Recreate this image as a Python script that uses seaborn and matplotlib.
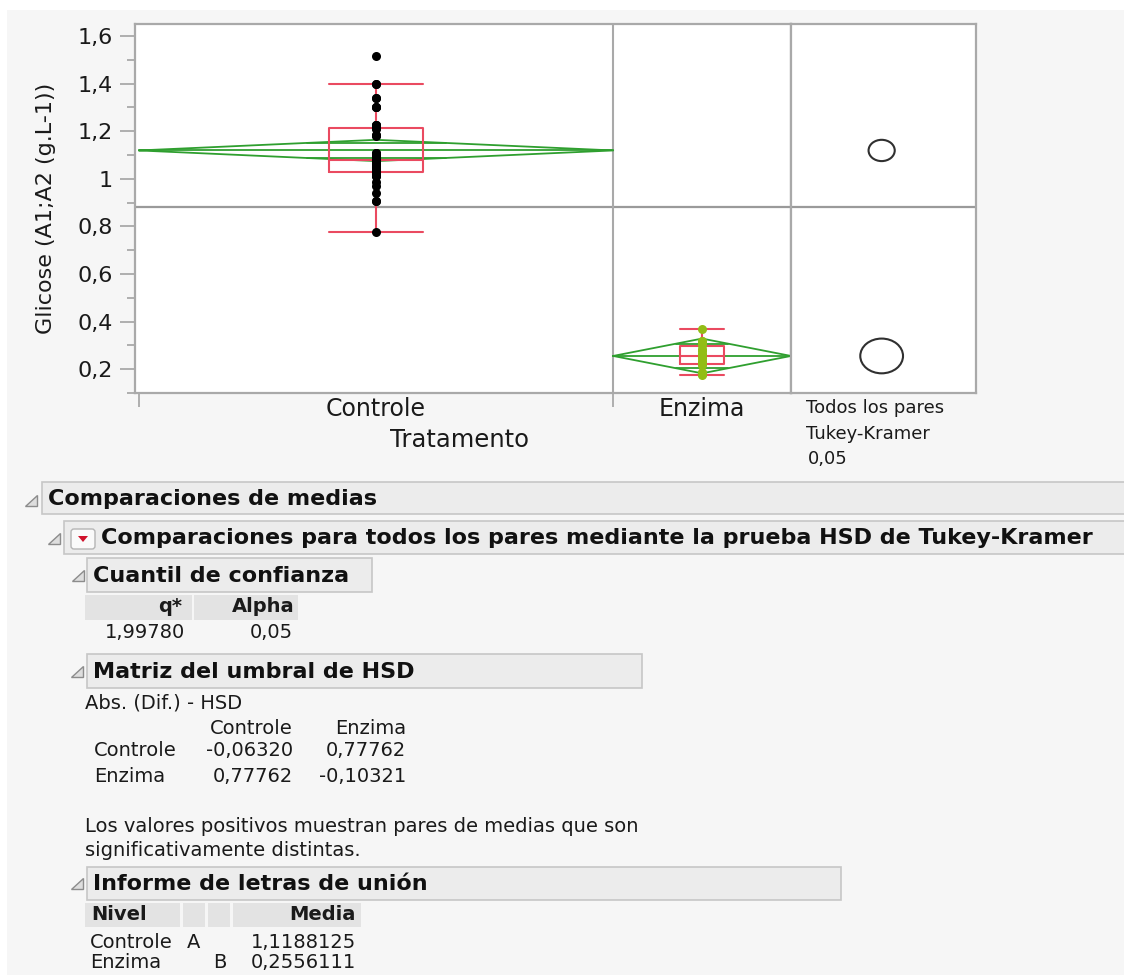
import numpy as np
import pandas as pd
import seaborn as sns
import matplotlib.pyplot as plt
from matplotlib.patches import Ellipse, Rectangle, Polygon, FancyBboxPatch
from matplotlib.ticker import FixedLocator, MultipleLocator

# ---------------- data ----------------
groups = ["Controle", "Enzima"]
counts = [48, 18]

glicose_controle = [
    0.776, 0.905, 0.905, 0.94, 0.97, 0.985, 1.01, 1.01, 1.02, 1.02, 1.02, 1.025,
    1.028, 1.035, 1.045, 1.05, 1.05, 1.055, 1.06, 1.06, 1.065, 1.07, 1.07, 1.075,
    1.083, 1.09, 1.095, 1.10, 1.105, 1.11, 1.11, 1.18, 1.183, 1.183, 1.21, 1.212,
    1.22, 1.225, 1.225, 1.225, 1.30, 1.30, 1.30, 1.34, 1.34, 1.40, 1.40, 1.516,
]
glicose_enzima = [
    0.175, 0.18, 0.18, 0.19, 0.218, 0.225, 0.235, 0.245, 0.252,
    0.26, 0.265, 0.275, 0.285, 0.30, 0.305, 0.32, 0.32, 0.37,
]

means = [1.1188125, 0.2556111]
hsd_matrix = [[-0.06320, 0.77762],
              [0.77762, -0.10321]]
q_star = 1.99780
alpha = 0.05
letters = [["A", ""], ["", "B"]]

y_ticks = [0.2, 0.4, 0.6, 0.8, 1.0, 1.2, 1.4, 1.6]
y_tick_labels = ["0,2", "0,4", "0,6", "0,8", "1", "1,2", "1,4", "1,6"]


def fmt(v, nd):
    return f"{v:.{nd}f}".replace(".", ",")


# ---------------- style ----------------
sns.set_theme(style="white")
plt.rcParams["font.family"] = ["DejaVu Sans"]

BG = "#f6f6f6"
FRAME = "#a9a9a9"
RED = "#ea4a60"
GREEN = "#2f9f2f"
YGREEN = "#92bd16"
INK = "#1a1a1a"

W, H = 1124, 975
fig = plt.figure(figsize=(W / 100, H / 100), dpi=100, facecolor=BG)


def rect(l, t, r, b):
    return [l / W, 1 - b / H, (r - l) / W, (b - t) / H]


# page overlay in pixel coordinates (y downwards)
rep = fig.add_axes([0, 0, 1, 1], zorder=0)
rep.set_xlim(0, W)
rep.set_ylim(H, 0)
rep.axis("off")
rep.add_patch(Rectangle((0, 0), W, 10, facecolor="white", lw=0))
rep.add_patch(Rectangle((0, 0), 7, H, facecolor="white", lw=0))

ax = fig.add_axes(rect(135, 24, 791, 393), zorder=2)
cx = fig.add_axes(rect(791, 24, 976, 393), zorder=2)

# ---------------- one-way plot ----------------
edges = np.concatenate([[0], np.cumsum(counts)])
centers = (edges[:-1] + edges[1:]) / 2
df = pd.DataFrame({
    "Tratamento": np.repeat(groups, counts),
    "pos": np.repeat(centers, counts),
    "Glicose": glicose_controle + glicose_enzima,
})
grand_mean = np.average(means, weights=counts)
ci_half = [abs(hsd_matrix[i][i]) / np.sqrt(2) for i in range(len(groups))]

box_widths = [9.5, 4.5]
dot_colors = ["black", YGREEN]

ax.axhline(grand_mean, color="#9a9a9a", lw=1.6, zorder=1)
for i, g in enumerate(groups):
    lo, hi, c, m, h = edges[i], edges[i + 1], centers[i], means[i], ci_half[i]
    # means diamond with overlap marks
    ax.plot([lo, c, hi, c, lo], [m, m + h, m, m - h, m], color=GREEN, lw=1.3, zorder=3)
    ax.plot([lo, hi], [m, m], color=GREEN, lw=1.3, zorder=3)
    k = h / np.sqrt(2)
    f = 1 - k / h
    for s in (1, -1):
        ax.plot([c - f * (c - lo), c + f * (hi - c)], [m + s * k, m + s * k],
                color=GREEN, lw=1.3, zorder=3)

    sub = df[df["Tratamento"] == g]
    sns.boxplot(data=sub, x="pos", y="Glicose", native_scale=True, width=box_widths[i],
                fill=False, color=RED, linewidth=1.5, whis=1.5, showfliers=False,
                capwidths=box_widths[i], ax=ax, zorder=4)
    sns.stripplot(data=sub, x="pos", y="Glicose", native_scale=True, jitter=False,
                  color=dot_colors[i], size=6.5, linewidth=0, ax=ax, zorder=5)

ax.axvline(edges[1], color=FRAME, lw=1.5, zorder=1)
ax.set_xlim(edges[0] - 0.4, edges[-1])
ax.set_ylim(0.1, 1.65)
ax.set_facecolor("white")
for sp in ax.spines.values():
    sp.set_color(FRAME)
    sp.set_linewidth(1.6)

ax.yaxis.set_major_locator(FixedLocator(y_ticks))
ax.set_yticklabels(y_tick_labels)
ax.yaxis.set_minor_locator(MultipleLocator(0.1))
ax.tick_params(axis="y", which="major", left=True, length=11, width=1.3, color=FRAME,
               labelsize=16, labelcolor=INK, pad=5)
ax.tick_params(axis="y", which="minor", left=True, length=6, width=1.3, color=FRAME)

ax.set_xticks(edges[:-1])
ax.set_xticklabels([""] * (len(edges) - 1))
ax.set_xticks(centers, minor=True)
ax.set_xticklabels(groups, minor=True)
ax.tick_params(axis="x", which="major", bottom=True, length=10, width=1.3, color=FRAME)
ax.tick_params(axis="x", which="minor", bottom=False, length=0, labelsize=17,
               labelcolor=INK, pad=3)

ax.set_xlabel("Tratamento", fontsize=17.5, color=INK)
ax.set_ylabel("Glicose (A1;A2 (g.L-1))", fontsize=16, color=INK)
ax.xaxis.set_label_coords(0.495, -0.095)
ax.yaxis.set_label_coords(-0.12, 0.5)

# ---------------- comparison circles ----------------
cx.set_facecolor("white")
cx.set_xlim(0, 1)
cx.set_ylim(ax.get_ylim())
cx.set_xticks([])
cx.set_yticks([])
for sp in cx.spines.values():
    sp.set_color(FRAME)
    sp.set_linewidth(1.6)
cx.axhline(grand_mean, color="#9a9a9a", lw=1.6, zorder=1)
px_per_y = (393 - 24) / (ax.get_ylim()[1] - ax.get_ylim()[0])
for m, h in zip(means, ci_half):
    w_units = 2 * h * px_per_y * 1.23 / (976 - 791)
    cx.add_patch(Ellipse((0.49, m), w_units, 2 * h, facecolor="none",
                         edgecolor="#303030", lw=1.5, zorder=3))

rep.text(806, 408, "Todos los pares", fontsize=13, color=INK, va="center", ha="left")
rep.text(806, 434, "Tukey-Kramer", fontsize=13, color=INK, va="center", ha="left")
rep.text(808, 459, fmt(alpha, 2), fontsize=13, color=INK, va="center", ha="left")

# ---------------- report outline ----------------
HDR_FS = 16
BODY_FS = 14


def header(x0, y0, x1, y1, label, tx):
    rep.add_patch(Rectangle((x0, y0), x1 - x0, y1 - y0, facecolor="#ececec",
                            edgecolor="#c6c6c6", lw=1.2))
    rep.text(tx, (y0 + y1) / 2 + 1, label, fontsize=HDR_FS, fontweight="bold",
             color="#111111", va="center", ha="left")


def disclosure(x, y):
    rep.add_patch(Polygon([(x - 12, y), (x, y), (x, y - 11)], closed=True,
                          facecolor="#dedede", edgecolor="#8c8c8c", lw=1))


def cell(x0, y0, x1, y1):
    rep.add_patch(Rectangle((x0, y0), x1 - x0, y1 - y0, facecolor="#e3e3e3", lw=0))


def body(x, y, s, ha="left", bold=False):
    rep.text(x, y, s, fontsize=BODY_FS, color=INK, va="center", ha=ha,
             fontweight="bold" if bold else "normal")


disclosure(37, 506)
header(42, 482, 1130, 514, "Comparaciones de medias", 48)

disclosure(60, 544)
header(64, 521, 1130, 554, "Comparaciones para todos los pares mediante la prueba HSD de Tukey-Kramer", 101)
rep.add_patch(FancyBboxPatch((71, 529), 24, 20, boxstyle="round,pad=0,rounding_size=3",
                             facecolor="#fafafa", edgecolor="#b5b5b5", lw=1))
rep.add_patch(Polygon([(78, 536), (88, 536), (83, 542)], closed=True, facecolor="#d0112b", lw=0))

# confidence quantile
disclosure(84, 581)
header(87, 558, 372, 592, "Cuantil de confianza", 93)
cell(85, 595, 192, 620)
cell(194, 595, 298, 620)
body(182, 607, "q*", ha="right", bold=True)
body(295, 607, "Alpha", ha="right", bold=True)
body(185, 633, fmt(q_star, 5), ha="right")
body(293, 633, fmt(alpha, 2), ha="right")

# HSD threshold matrix
disclosure(83, 677)
header(87, 654, 642, 688, "Matriz del umbral de HSD", 93)
body(85, 703, "Abs. (Dif.) - HSD")
col_right = [293, 406]
for j, g in enumerate(groups):
    body(col_right[j], 729, g, ha="right")
for i, g in enumerate(groups):
    yy = 751 + 25 * i
    body(94, yy, g)
    for j in range(len(groups)):
        body(col_right[j], yy, fmt(hsd_matrix[i][j], 5), ha="right")
body(85, 826, "Los valores positivos muestran pares de medias que son")
body(85, 850, "significativamente distintas.")

# connecting letters report
disclosure(83, 889)
header(87, 867, 841, 900, "Informe de letras de unión", 93)
cell(85, 903, 180, 927)
cell(183, 903, 205, 927)
cell(208, 903, 230, 927)
cell(233, 903, 361, 927)
body(91, 915, "Nivel", bold=True)
body(356, 915, "Media", ha="right", bold=True)
letter_x = [187, 213]
for i, g in enumerate(groups):
    yy = 942 + 21 * i
    body(90, yy, g)
    for j in range(len(groups)):
        if letters[i][j]:
            body(letter_x[j], yy, letters[i][j])
    body(356, yy, fmt(means[i], 7), ha="right")

fig.savefig("out.png", dpi=100, facecolor=fig.get_facecolor())
